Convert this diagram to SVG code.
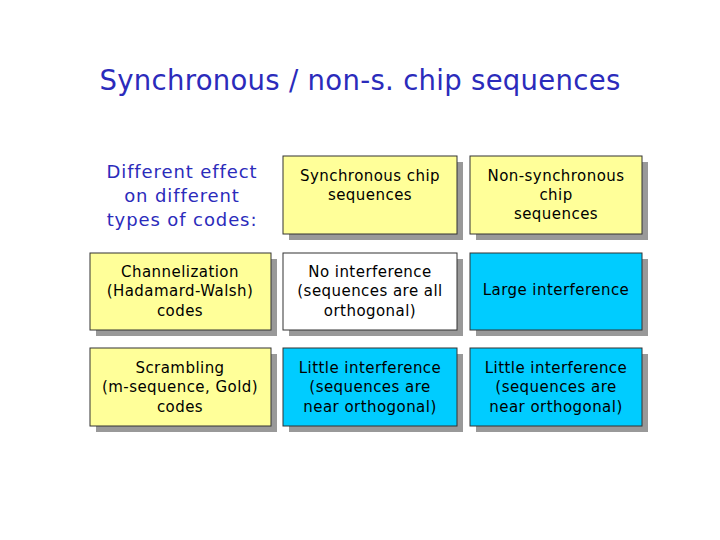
<svg xmlns="http://www.w3.org/2000/svg" width="720" height="540" viewBox="0 0 720 540">
<style>
text{font-family:"DejaVu Sans",Verdana,sans-serif;text-anchor:middle}
.t{font-size:15px;fill:#000;letter-spacing:0.45px}
.h{font-size:18px;fill:#2B2BBB;letter-spacing:0.9px}
.sh{fill:#999}
.b{stroke:#333;stroke-width:1}
.y{fill:#FFFF99}.w{fill:#fff}.c{fill:#00CCFF}
</style>
<rect width="720" height="540" fill="#fff"/>
<text x="360" y="90" font-size="27.5" fill="#2B2BBB" letter-spacing="0.3">Synchronous / non-s. chip sequences</text>
<g id="hdr"><text class="h" x="182" y="178">Different effect</text><text class="h" x="182" y="202">on different</text><text class="h" x="182" y="226">types of codes:</text></g>
<g id="n1"><rect class="sh" x="289" y="162" width="174" height="78"/><rect class="b y" x="283" y="156" width="174" height="78"/><text class="t" x="370" y="181">Synchronous  chip</text><text class="t" x="370" y="200">sequences</text></g>
<g id="n2"><rect class="sh" x="476" y="162" width="172" height="78"/><rect class="b y" x="470" y="156" width="172" height="78"/><text class="t" x="556" y="181">Non-synchronous</text><text class="t" x="556" y="200">chip</text><text class="t" x="556" y="219">sequences</text></g>
<g id="n3"><rect class="sh" x="96" y="259" width="181" height="77"/><rect class="b y" x="90" y="253" width="181" height="77"/><text class="t" x="180" y="277">Channelization</text><text class="t" x="180" y="296">(Hadamard-Walsh)</text><text class="t" x="180" y="316">codes</text></g>
<g id="n4"><rect class="sh" x="289" y="259" width="174" height="77"/><rect class="b w" x="283" y="253" width="174" height="77"/><text class="t" x="370" y="277">No interference</text><text class="t" x="370" y="296">(sequences are all</text><text class="t" x="370" y="316">orthogonal)</text></g>
<g id="n5"><rect class="sh" x="476" y="259" width="172" height="77"/><rect class="b c" x="470" y="253" width="172" height="77"/><text class="t" x="556" y="295">Large interference</text></g>
<g id="n6"><rect class="sh" x="96" y="354" width="181" height="78"/><rect class="b y" x="90" y="348" width="181" height="78"/><text class="t" x="180" y="373">Scrambling</text><text class="t" x="180" y="392">(m-sequence, Gold)</text><text class="t" x="180" y="412">codes</text></g>
<g id="n7"><rect class="sh" x="289" y="354" width="174" height="78"/><rect class="b c" x="283" y="348" width="174" height="78"/><text class="t" x="370" y="373">Little interference</text><text class="t" x="370" y="392">(sequences are</text><text class="t" x="370" y="412">near orthogonal)</text></g>
<g id="n8"><rect class="sh" x="476" y="354" width="172" height="78"/><rect class="b c" x="470" y="348" width="172" height="78"/><text class="t" x="556" y="373">Little interference</text><text class="t" x="556" y="392">(sequences are</text><text class="t" x="556" y="412">near orthogonal)</text></g>
<g id="connectors"/>
</svg>
